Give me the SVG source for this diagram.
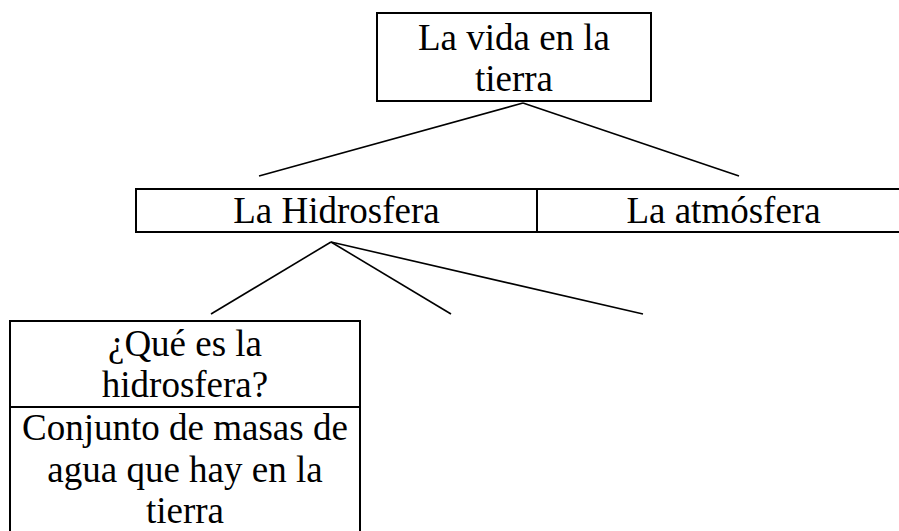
<svg xmlns="http://www.w3.org/2000/svg" width="899" height="531" viewBox="0 0 899 531">
<style>
.box{fill:#fff;stroke:#000;stroke-width:2}
.t{font-family:"Liberation Serif","Times New Roman",serif;font-size:37px;fill:#000;text-anchor:middle}
.c line{stroke:#000;stroke-width:1.6}
</style>
<rect width="899" height="531" fill="#fff"/>
<g class="c" id="connectors">
<line x1="523" y1="103" x2="259" y2="176"/>
<line x1="523" y1="103" x2="739" y2="176"/>
<line x1="331" y1="242" x2="211" y2="314"/>
<line x1="331" y1="242" x2="451" y2="314"/>
<line x1="331" y1="242" x2="643" y2="314"/>
</g>
<g id="node-vida">
<rect class="box" x="377" y="13" width="274" height="88"/>
<text class="t" x="514" y="50">La vida en la</text>
<text class="t" x="514" y="91">tierra</text>
</g>
<g id="node-hidrosfera">
<rect class="box" x="136" y="189" width="401" height="43"/>
<text class="t" x="336.5" y="223">La Hidrosfera</text>
</g>
<g id="node-atmosfera">
<rect class="box" x="537" y="189" width="373" height="43"/>
<text class="t" x="723.5" y="223">La atmósfera</text>
</g>
<g id="node-que-es">
<rect class="box" x="10" y="321" width="350" height="86"/>
<text class="t" x="185" y="356">¿Qué es la</text>
<text class="t" x="185" y="397">hidrosfera?</text>
</g>
<g id="node-conjunto">
<rect class="box" x="10" y="407" width="350" height="140"/>
<text class="t" x="185" y="440">Conjunto de masas de</text>
<text class="t" x="185" y="482">agua que hay en la</text>
<text class="t" x="185" y="523">tierra</text>
</g>
</svg>
